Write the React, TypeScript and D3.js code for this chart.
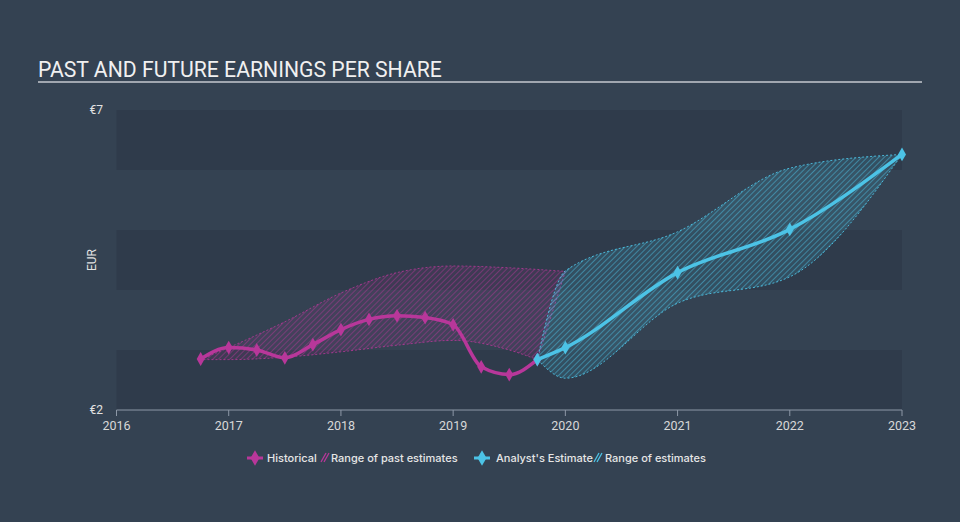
import React from 'react';
import * as d3 from 'd3';

const W = 960;
const H = 522;

const histDates = [2016.75, 2017, 2017.25, 2017.5, 2017.75, 2018, 2018.25, 2018.5, 2018.75, 2019, 2019.25, 2019.5, 2019.75];
const histValues = [2.85, 3.04, 3.0, 2.87, 3.09, 3.34, 3.51, 3.57, 3.54, 3.42, 2.72, 2.59, 2.84];

const pastHighDates = [2016.75, 2017, 2017.5, 2018, 2018.5, 2019, 2019.5, 2020];
const pastHighValues = [2.84, 3.04, 3.47, 3.95, 4.29, 4.4, 4.37, 4.31];
const pastLowDates = [2016.75, 2017, 2017.5, 2018, 2018.5, 2019, 2019.5, 2019.75];
const pastLowValues = [2.84, 2.84, 2.88, 2.97, 3.08, 3.16, 3.0, 2.84];

const estDates = [2019.75, 2020, 2021, 2022, 2023];
const estValues = [2.84, 3.04, 4.29, 5.01, 6.26];
const estHigh = [2.84, 4.32, 4.97, 6.03, 6.26];
const estLow = [2.84, 2.53, 3.78, 4.22, 6.26];

const yearTicks = [2016, 2017, 2018, 2019, 2020, 2021, 2022, 2023];
const yTicks = [2, 7];
const bandStarts = [2, 3, 4, 5, 6];

const PINK = '#b8379a';
const BLUE = '#4cc3e6';

export default function App() {
  const x = d3.scaleLinear().domain([2016, 2023]).range([116.5, 902]);
  const y = d3.scaleLinear().domain([2, 7]).range([410, 110]);

  const line = d3
    .line<[number, number]>()
    .x((d) => x(d[0]))
    .y((d) => y(d[1]))
    .curve(d3.curveMonotoneX);

  const hist: [number, number][] = histDates.map((d, i) => [d, histValues[i]]);
  const est: [number, number][] = estDates.map((d, i) => [d, estValues[i]]);

  const pastHigh: [number, number][] = pastHighDates.map((d, i) => [d, pastHighValues[i]]);
  const pastLow: [number, number][] = pastLowDates.map((d, i) => [d, pastLowValues[i]]);
  const pastPath = line(pastHigh)! + 'L' + line(pastLow.slice().reverse())!.slice(1) + 'Z';

  const estHighPts: [number, number][] = estDates.map((d, i) => [d, estHigh[i]]);
  const estLowPts: [number, number][] = estDates.map((d, i) => [d, estLow[i]]);
  const estPath = line(estHighPts)! + 'L' + line(estLowPts.slice().reverse())!.slice(1) + 'Z';

  const diamond = d3.symbol().type(d3.symbolDiamond).size(55)()!;
  const diamondLegend = d3.symbol().type(d3.symbolDiamond).size(70)()!;

  const font = 'Roboto, "Noto Sans", sans-serif';
  const legendFont = 'Inter, Roboto, sans-serif';

  const hatchIcon = (x0: number, color: string) => (
    <g stroke={color} strokeWidth={1.3}>
      <line x1={x0} y1={462} x2={x0 + 5} y2={453} />
      <line x1={x0 + 3} y1={462} x2={x0 + 8} y2={453} />
    </g>
  );

  return (
    <svg width={W} height={H} style={{ position: 'absolute', left: 0, top: 0 }} fontFamily={font}>
      <defs>
        <pattern id="hatchPink" patternUnits="userSpaceOnUse" width={4} height={4} patternTransform="rotate(45)">
          <line x1={0} y1={0} x2={0} y2={4} stroke={PINK} strokeWidth={1.2} strokeOpacity={0.75} />
        </pattern>
        <pattern id="hatchBlue" patternUnits="userSpaceOnUse" width={4} height={4} patternTransform="rotate(45)">
          <line x1={0} y1={0} x2={0} y2={4} stroke={BLUE} strokeWidth={1.2} strokeOpacity={0.8} />
        </pattern>
      </defs>
      <rect x={0} y={0} width={W} height={H} fill="#344252" />

      {/* bands */}
      {bandStarts.map((b, i) => (
        <rect
          key={b}
          x={x(2016)}
          y={y(b + 1)}
          width={x(2023) - x(2016)}
          height={y(b) - y(b + 1)}
          fill={i % 2 === 0 ? '#2f3b4b' : '#344252'}
        />
      ))}

      {/* title */}
      <text x={38} y={77} fontSize={21.2} fill="#f0f0f0">
        PAST AND FUTURE EARNINGS PER SHARE
      </text>
      <line x1={38} x2={922} y1={82} y2={82} stroke="#c5c9cf" strokeWidth={1.5} />

      {/* y axis labels */}
      {yTicks.map((t) => (
        <text key={t} x={103} y={y(t) + 4} fontSize={12} fill="#e2e2e2" textAnchor="end">
          €{t}
        </text>
      ))}
      <text transform={`translate(96,260) rotate(-90)`} fontSize={12} fill="#e2e2e2" textAnchor="middle">
        EUR
      </text>

      {/* ranges */}
      <path d={pastPath} fill={PINK} fillOpacity={0.12} />
      <path d={pastPath} fill="url(#hatchPink)" stroke={PINK} strokeWidth={1} strokeDasharray="2,2" strokeOpacity={0.8} />
      <path d={estPath} fill={BLUE} fillOpacity={0.15} />
      <path d={estPath} fill="url(#hatchBlue)" stroke={BLUE} strokeWidth={1} strokeDasharray="2,2" strokeOpacity={0.9} />

      {/* lines */}
      <path d={line(hist)!} fill="none" stroke={PINK} strokeWidth={3.5} />
      {hist.map((d, i) => (
        <path key={'h' + i} d={diamond} transform={`translate(${x(d[0])},${y(d[1])})`} fill={PINK} />
      ))}
      <path d={line(est)!} fill="none" stroke={BLUE} strokeWidth={3.5} />
      {est.map((d, i) => (
        <path key={'e' + i} d={diamond} transform={`translate(${x(d[0])},${y(d[1])})`} fill={BLUE} />
      ))}

      {/* x axis */}
      <line x1={x(2016)} x2={x(2023)} y1={410} y2={410} stroke="#8d98a7" strokeWidth={1} />
      {yearTicks.map((t) => (
        <g key={t} transform={`translate(${x(t)},410)`}>
          <line y1={0} y2={6} stroke="#8d98a7" strokeWidth={1} />
          <text y={20} fontSize={12.5} fill="#d8d8d8" textAnchor="middle">
            {t}
          </text>
        </g>
      ))}

      {/* legend */}
      <g fontFamily={legendFont} fontSize={11} fontWeight={500} fill="#e6e6e6">
        <line x1={247} x2={263} y1={458} y2={458} stroke={PINK} strokeWidth={3} />
        <path d={diamondLegend} transform="translate(255,458)" fill={PINK} />
        <text x={267} y={462}>Historical</text>
        {hatchIcon(321, PINK)}
        <text x={331} y={462}>Range of past estimates</text>

        <line x1={474} x2={490} y1={458} y2={458} stroke={BLUE} strokeWidth={3} />
        <path d={diamondLegend} transform="translate(482,458)" fill={BLUE} />
        <text x={496} y={462}>Analyst's Estimate</text>
        {hatchIcon(594, BLUE)}
        <text x={605} y={462}>Range of estimates</text>
      </g>
    </svg>
  );
}
